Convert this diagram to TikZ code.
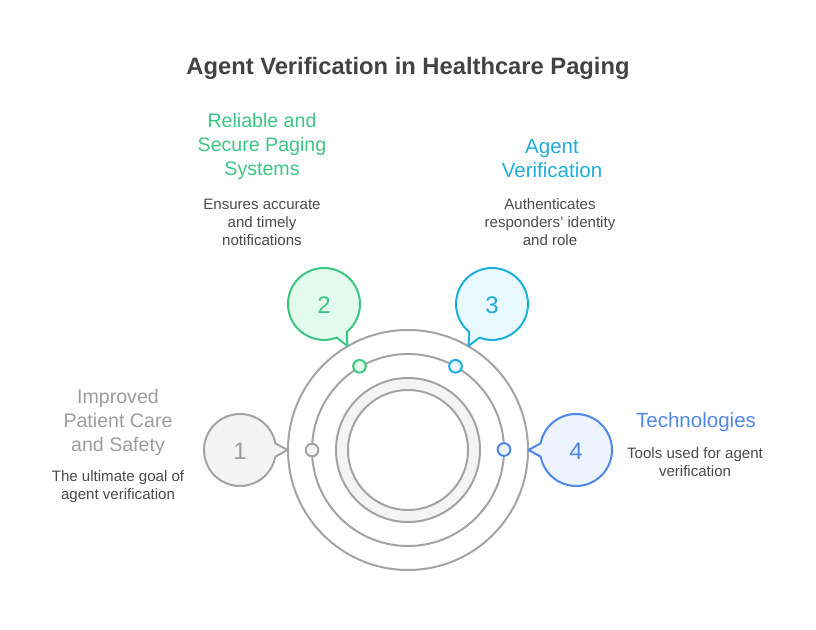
\documentclass[tikz,border=0pt]{standalone}
\usepackage{fontspec}
\setmainfont{Liberation Sans}
\usetikzlibrary{positioning}
\definecolor{ringgray}{HTML}{A3A3A3}
\definecolor{softgray}{HTML}{F4F4F4}
\definecolor{headgray}{HTML}{9C9C9C}
\definecolor{bodygray}{HTML}{4A4A4A}
\definecolor{titlegray}{HTML}{434343}
\definecolor{leafgreen}{HTML}{3CC583}
\definecolor{softgreen}{HTML}{E3FBEF}
\definecolor{skyblue}{HTML}{1DAEDC}
\definecolor{softsky}{HTML}{E8F9FF}
\definecolor{royalblue}{HTML}{4E88E7}
\definecolor{softblue}{HTML}{EDF3FF}
\tikzset{
  ring/.style={draw=ringgray,line width=1.5pt},
  bubble/.style={line width=1.5pt,line join=round},
  numtext/.style={font=\fontsize{18}{18}\selectfont,inner sep=0pt},
  dot/.style={circle,draw=#1,line width=1.5pt,inner sep=0pt,minimum size=9.5pt},
  headtext/.style={font=\fontsize{14.7}{18}\selectfont,align=center,inner sep=0pt},
  widehead/.style={font=\fontsize{15.4}{18}\selectfont,align=center,inner sep=0pt},
  bodytext/.style={font=\fontsize{11.3}{13.5}\selectfont,align=center,inner sep=0pt,text=bodygray}
}
\begin{document}
\begin{tikzpicture}[x=0.75pt,y=0.75pt]
  \useasboundingbox (0,0) rectangle (816,630);
  % rings
  \draw[ring] (408,180) circle (120);
  \draw[ring] (408,180) circle (96);
  \draw[ring,fill=softgray,even odd rule] (408,180) circle (72) (408,180) circle (60);
  % bubbles
  \draw[bubble,draw=ringgray,fill=softgray] (287.5,180) -- ([shift={(10.7:36)}]240,180) arc[start angle=10.7,end angle=349.3,radius=36] -- cycle;
  \draw[bubble,draw=leafgreen,fill=softgreen] (347.5,284) -- ([shift={(-50.7:36)}]324,326) arc[start angle=-50.7,end angle=290.6,radius=36] -- cycle;
  \draw[bubble,draw=skyblue,fill=softsky] (468.5,284) -- ([shift={(230.7:36)}]492,326) arc[start angle=230.7,end angle=-110.6,radius=36] -- cycle;
  \draw[bubble,draw=royalblue,fill=softblue] (528.5,180) -- ([shift={(169.3:36)}]576,180) arc[start angle=169.3,end angle=-169.3,radius=36] -- cycle;
  \node[numtext,text=headgray] (num1) at (240,178.5) {1};
  \node[numtext,text=leafgreen] (num2) at (324,324.5) {2};
  \node[numtext,text=skyblue] (num3) at (492,324.5) {3};
  \node[numtext,text=royalblue] (num4) at (576,178.5) {4};
  % dots on the middle ring
  \node[dot=ringgray,fill=softgray] (dot1) at (312,180) {};
  \node[dot=leafgreen,fill=softgreen] (dot2) at (359.5,263.7) {};
  \node[dot=skyblue,fill=softsky] (dot3) at (455.5,263.7) {};
  \node[dot=royalblue,fill=softblue] (dot4) at (504,180.5) {};
  % texts
  \node[font=\bfseries\fontsize{17.8}{18}\selectfont,text=titlegray,inner sep=0pt] (title) at (408,562) {Agent Verification in Healthcare Paging};
  \node[headtext,text=headgray] (head1) at (118,207.5) {Improved\\Patient Care\\and Safety};
  \node[bodytext] (body1) at (118,143.5) {The ultimate goal of\\agent verification};
  \node[headtext,text=leafgreen] (head2) at (262,483.5) {Reliable and\\Secure Paging\\Systems};
  \node[bodytext] (body2) at (262,407.5) {Ensures accurate\\and timely\\notifications};
  \node[widehead,text=skyblue] (head3) at (552,471.5) {Agent\\Verification};
  \node[bodytext] (body3) at (550,407.5) {Authenticates\\responders' identity\\and role};
  \node[widehead,text=royalblue] (head4) at (696,207.5) {Technologies};
  \node[bodytext] (body4) at (695,167.5) {Tools used for agent\\verification};
\end{tikzpicture}
\end{document}
